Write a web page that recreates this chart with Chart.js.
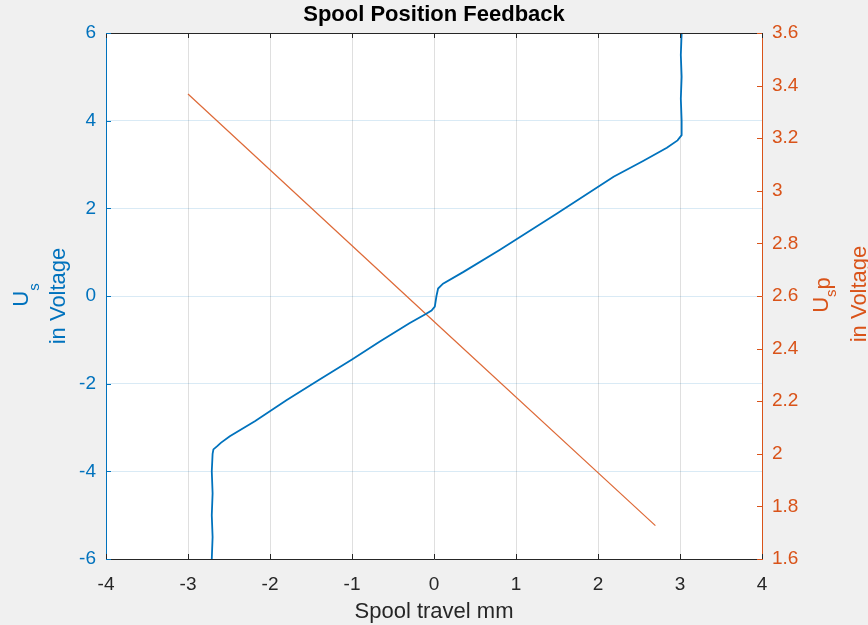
<!DOCTYPE html>
<html>
<head>
<meta charset="utf-8">
<script src="https://cdn.jsdelivr.net/npm/chart.js@4/dist/chart.umd.min.js"></script>
<style>
  html, body { margin: 0; padding: 0; background: #f0f0f0; }
  canvas { display: block; }
</style>
</head>
<body>
<canvas id="c" width="868" height="625"></canvas>
<script>
// Feedback voltage U_s (left axis) versus spool travel
const travelUs = [
  -2.71, -2.70, -2.71, -2.70, -2.71, -2.70, -2.69,
  -2.64, -2.60, -2.49, -2.18, -1.80, -1.40, -1.00, -0.66, -0.30, -0.10, -0.03,
  0.01, 0.03, 0.05, 0.11, 0.36, 0.80, 1.50, 2.19, 2.55, 2.84, 2.97,
  3.02, 3.02, 3.01, 3.02, 3.01, 3.02
];
const voltageUs = [
  -6.0, -5.5, -5.0, -4.5, -4.0, -3.6, -3.5,
  -3.42, -3.35, -3.20, -2.85, -2.38, -1.91, -1.45, -1.04, -0.62, -0.41, -0.33,
  -0.24, 0.00, 0.17, 0.28, 0.55, 1.05, 1.88, 2.72, 3.08, 3.38, 3.55,
  3.67, 4.0, 4.5, 5.0, 5.5, 6.0
];

// Voltage U_sp (right axis) versus spool travel
const travelUsp = [-3.0, 0.0, 2.7];
const voltageUsp = [3.368, 2.503, 1.727];

// Tick labels
const xTicks = [-4, -3, -2, -1, 0, 1, 2, 3, 4];
const leftTicks = [-6, -4, -2, 0, 2, 4, 6];
const rightTicks = [1.6, 1.8, 2.0, 2.2, 2.4, 2.6, 2.8, 3.0, 3.2, 3.4, 3.6];

const BLUE = '#0072BD';
const ORANGE = '#D95319';
const DARK = '#262626';
const FONT = '"Liberation Sans", Arial, Helvetica, sans-serif';

const toPoints = (xs, ys) => xs.map((x, i) => ({ x: x, y: ys[i] }));
const fixTicks = values => scale => { scale.ticks = values.map(v => ({ value: v })); };
const fmt = v => String(Math.round(v * 10) / 10);

// Figure/axes backgrounds, frame, inward tick marks and rich-text titles
const framePlugin = {
  id: 'frame',
  beforeDraw(chart) {
    const { ctx, chartArea: a } = chart;
    ctx.save();
    ctx.fillStyle = '#f0f0f0';
    ctx.fillRect(0, 0, chart.width, chart.height);
    ctx.fillStyle = '#ffffff';
    ctx.fillRect(a.left, a.top, a.right - a.left, a.bottom - a.top);
    ctx.restore();
  },
  afterDraw(chart) {
    const { ctx, chartArea: a, scales } = chart;
    const TL = 5;
    ctx.save();
    ctx.lineWidth = 1;

    // top edge
    ctx.strokeStyle = DARK;
    ctx.beginPath();
    ctx.moveTo(a.left, a.top + 0.5);
    ctx.lineTo(a.right, a.top + 0.5);
    ctx.stroke();

    // x ticks on bottom and top, pointing inward
    ctx.beginPath();
    xTicks.forEach(v => {
      const px = Math.round(scales.x.getPixelForValue(v)) + 0.5;
      ctx.moveTo(px, a.bottom);
      ctx.lineTo(px, a.bottom - TL);
      ctx.moveTo(px, a.top);
      ctx.lineTo(px, a.top + TL);
    });
    ctx.stroke();

    // left ticks
    ctx.strokeStyle = BLUE;
    ctx.beginPath();
    leftTicks.forEach(v => {
      const py = Math.round(scales.y.getPixelForValue(v)) + 0.5;
      ctx.moveTo(a.left, py);
      ctx.lineTo(a.left + TL, py);
    });
    ctx.stroke();

    // right ticks
    ctx.strokeStyle = ORANGE;
    ctx.beginPath();
    rightTicks.forEach(v => {
      const py = Math.round(scales.y1.getPixelForValue(v)) + 0.5;
      ctx.moveTo(a.right, py);
      ctx.lineTo(a.right - TL, py);
    });
    ctx.stroke();

    // title
    ctx.fillStyle = '#000000';
    ctx.font = 'bold 22px ' + FONT;
    ctx.textAlign = 'center';
    ctx.textBaseline = 'alphabetic';
    ctx.fillText('Spool Position Feedback', (a.left + a.right) / 2, 21);

    // x axis title
    ctx.fillStyle = DARK;
    ctx.font = '22px ' + FONT;
    ctx.fillText('Spool travel mm', (a.left + a.right) / 2, 618);

    // rotated titles with subscripts
    const rich = (parts, bx, cy, color) => {
      ctx.save();
      ctx.fillStyle = color;
      ctx.textAlign = 'left';
      ctx.textBaseline = 'alphabetic';
      let w = 0;
      parts.forEach(p => { ctx.font = p.size + 'px ' + FONT; p.w = ctx.measureText(p.text).width; w += p.w; });
      ctx.translate(bx, cy);
      ctx.rotate(-Math.PI / 2);
      let x = -w / 2;
      parts.forEach(p => {
        ctx.font = p.size + 'px ' + FONT;
        ctx.fillText(p.text, x, p.dy);
        x += p.w;
      });
      ctx.restore();
    };
    rich([{ text: 'U', size: 22, dy: 0 }, { text: 's', size: 15, dy: 11 }], 28, 295, BLUE);
    rich([{ text: 'in Voltage', size: 22, dy: 0 }], 65, 296, BLUE);
    rich([{ text: 'U', size: 22, dy: 0 }, { text: 's', size: 15, dy: 8 }, { text: 'p', size: 22, dy: 2 }], 828, 295, ORANGE);
    rich([{ text: 'in Voltage', size: 22, dy: 0 }], 866, 294, ORANGE);

    ctx.restore();
  }
};

new Chart(document.getElementById('c'), {
  type: 'scatter',
  data: {
    datasets: [
      {
        label: 'U_s',
        data: toPoints(travelUs, voltageUs),
        yAxisID: 'y',
        showLine: true,
        borderColor: BLUE,
        backgroundColor: BLUE,
        borderWidth: 1.8,
        pointRadius: 0,
        tension: 0
      },
      {
        label: 'U_sp',
        data: toPoints(travelUsp, voltageUsp),
        yAxisID: 'y1',
        showLine: true,
        borderColor: '#DE6A38',
        backgroundColor: ORANGE,
        borderWidth: 1.2,
        pointRadius: 0,
        tension: 0
      }
    ]
  },
  options: {
    responsive: false,
    animation: false,
    devicePixelRatio: 1,
    layout: { padding: { top: 33, left: 0, right: 0, bottom: 0 } },
    plugins: {
      legend: { display: false },
      title: { display: false },
      tooltip: { enabled: false }
    },
    scales: {
      x: {
        type: 'linear',
        position: 'bottom',
        min: -4, max: 4,
        afterBuildTicks: fixTicks(xTicks),
        afterFit(s) { s.height = 66; },
        ticks: { color: DARK, font: { family: FONT, size: 19 }, padding: 14, callback: fmt, maxRotation: 0 },
        grid: { color: 'rgba(38,38,38,0.15)', lineWidth: 1, drawTicks: false },
        border: { display: true, color: DARK, width: 1 }
      },
      y: {
        type: 'linear',
        position: 'left',
        min: -6, max: 6,
        afterBuildTicks: fixTicks(leftTicks),
        afterFit(s) { s.width = 106; },
        ticks: { color: BLUE, font: { family: FONT, size: 19 }, padding: 10, callback: fmt },
        grid: { color: 'rgba(0,114,189,0.15)', lineWidth: 1, drawTicks: false },
        border: { display: true, color: BLUE, width: 1 }
      },
      y1: {
        type: 'linear',
        position: 'right',
        min: 1.6, max: 3.6,
        afterBuildTicks: fixTicks(rightTicks),
        afterFit(s) { s.width = 106; },
        ticks: { color: ORANGE, font: { family: FONT, size: 19 }, padding: 10, callback: fmt },
        grid: { display: false, drawTicks: false },
        border: { display: true, color: ORANGE, width: 1 }
      }
    }
  },
  plugins: [framePlugin]
});
</script>
</body>
</html>
